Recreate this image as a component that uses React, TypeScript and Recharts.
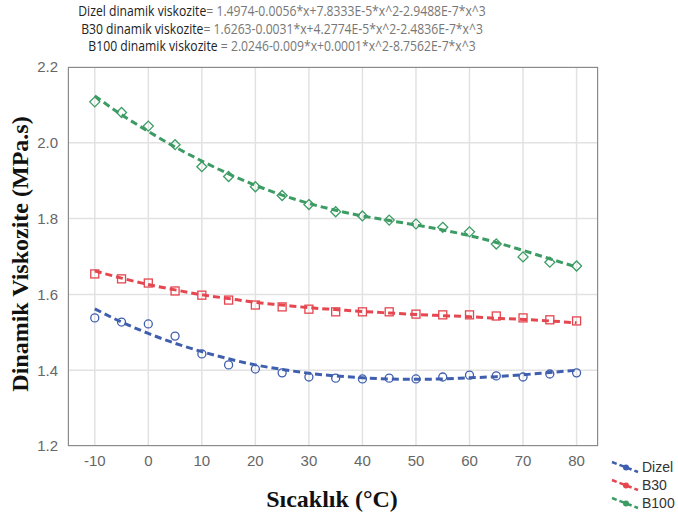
import { ComposedChart, Line, XAxis, YAxis, CartesianGrid } from 'recharts';

const temps = [-10, -5, 0, 5, 10, 15, 20, 25, 30, 35, 40, 45, 50, 55, 60, 65, 70, 75, 80];

const dizelObs = [1.538, 1.527, 1.522, 1.49, 1.443, 1.414, 1.403, 1.393, 1.382, 1.379, 1.377, 1.379, 1.377, 1.382, 1.387, 1.385, 1.382, 1.39, 1.393];
const b30Obs = [1.654, 1.641, 1.63, 1.609, 1.598, 1.585, 1.572, 1.567, 1.561, 1.554, 1.554, 1.554, 1.548, 1.546, 1.546, 1.543, 1.538, 1.533, 1.53];
const b100Obs = [2.108, 2.08, 2.044, 1.995, 1.937, 1.911, 1.884, 1.861, 1.837, 1.818, 1.807, 1.796, 1.786, 1.777, 1.765, 1.733, 1.699, 1.685, 1.675];

const dizelFit = [1.562, 1.527, 1.497, 1.471, 1.449, 1.43, 1.414, 1.402, 1.392, 1.385, 1.38, 1.377, 1.376, 1.377, 1.38, 1.383, 1.388, 1.394, 1.4];
const b30Fit = [1.662, 1.643, 1.626, 1.612, 1.599, 1.589, 1.579, 1.572, 1.565, 1.56, 1.555, 1.551, 1.547, 1.544, 1.541, 1.537, 1.534, 1.53, 1.525];
const b100Fit = [2.124, 2.074, 2.03, 1.989, 1.952, 1.918, 1.888, 1.862, 1.84, 1.822, 1.807, 1.795, 1.783, 1.77, 1.755, 1.737, 1.716, 1.694, 1.672];

const xTicks = [-10, 0, 10, 20, 30, 40, 50, 60, 70, 80];
const yTicks = [1.2, 1.4, 1.6, 1.8, 2.0, 2.2];

const equations = [
  { label: 'Dizel dinamik viskozite', eq: '= 1.4974-0.0056*x+7.8333E-5*x^2-2.9488E-7*x^3' },
  { label: 'B30 dinamik viskozite', eq: '= 1.6263-0.0031*x+4.2774E-5*x^2-2.4836E-7*x^3' },
  { label: 'B100 dinamik viskozite ', eq: '= 2.0246-0.009*x+0.0001*x^2-8.7562E-7*x^3' },
];

const data = temps.map((t, i) => ({
  t,
  dizel: dizelObs[i],
  b30: b30Obs[i],
  b100: b100Obs[i],
  dizelFit: dizelFit[i],
  b30Fit: b30Fit[i],
  b100Fit: b100Fit[i],
}));

const BLUE = '#3f5fae';
const RED = '#e5464f';
const GREEN = '#3c9c64';

const circle = (color: string) => (p: any) => (
  <circle key={p.index} cx={p.cx} cy={p.cy} r={4} fill="none" stroke={color} strokeWidth={1.3} />
);
const square = (color: string) => (p: any) => (
  <rect key={p.index} x={p.cx - 4} y={p.cy - 4} width={8} height={8} fill="none" stroke={color} strokeWidth={1.3} />
);
const diamond = (color: string) => (p: any) => (
  <path
    key={p.index}
    d={`M${p.cx},${p.cy - 5} L${p.cx + 5},${p.cy} L${p.cx},${p.cy + 5} L${p.cx - 5},${p.cy} Z`}
    fill="none"
    stroke={color}
    strokeWidth={1.3}
  />
);

const series = [
  { name: 'Dizel', obs: 'dizel', fit: 'dizelFit', color: BLUE, dot: circle },
  { name: 'B30', obs: 'b30', fit: 'b30Fit', color: RED, dot: square },
  { name: 'B100', obs: 'b100', fit: 'b100Fit', color: GREEN, dot: diamond },
];

const tickStyle = { fill: '#666', fontSize: 15, fontFamily: 'Liberation Sans, Arial, sans-serif' };
const serif = '"Liberation Serif", "Times New Roman", serif';

export default function App() {
  return (
    <div style={{ position: 'absolute', left: 0, top: 0, width: 678, height: 521, background: '#fff', overflow: 'hidden' }}>
      <div
        style={{
          position: 'absolute',
          left: 0,
          top: 2,
          width: 564,
          textAlign: 'center',
          fontFamily: '"Open Sans", sans-serif',
          fontSize: 14,
          lineHeight: '17.5px',
          transform: 'scaleX(0.87)',
          transformOrigin: '282px 0',
        }}
      >
        {equations.map((e) => (
          <div key={e.label}>
            <span style={{ color: '#222' }}>{e.label}</span>
            <span style={{ color: '#777' }}>{e.eq}</span>
          </div>
        ))}
      </div>

      <ComposedChart width={678} height={521} data={data} margin={{ top: 67, right: 80, bottom: 45, left: 0 }}>
        <CartesianGrid stroke="#e2e2e2" strokeWidth={1.5} />
        <XAxis
          dataKey="t"
          type="number"
          domain={[-15, 84]}
          ticks={xTicks}
          height={30}
          tickSize={0}
          tickMargin={9}
          axisLine={false}
          tick={tickStyle}
        />
        <YAxis
          type="number"
          domain={[1.2, 2.2]}
          ticks={yTicks}
          width={68}
          tickSize={0}
          tickMargin={10}
          axisLine={false}
          tick={tickStyle}
          tickFormatter={(v: number) => v.toFixed(1)}
        />
        {series.map((s) => (
          <Line
            key={s.fit}
            dataKey={s.fit}
            type="monotone"
            stroke={s.color}
            strokeWidth={3}
            strokeDasharray="7 4"
            dot={false}
            isAnimationActive={false}
          />
        ))}
        {series.map((s) => (
          <Line
            key={s.obs}
            dataKey={s.obs}
            stroke="none"
            dot={s.dot(s.color)}
            activeDot={false}
            isAnimationActive={false}
          />
        ))}
      </ComposedChart>

      <div
        style={{
          position: 'absolute',
          left: 68,
          top: 67,
          width: 530,
          height: 379,
          border: '1px solid #8a8a8a',
          boxSizing: 'border-box',
          pointerEvents: 'none',
        }}
      />

      <div
        style={{
          position: 'absolute',
          left: 20,
          top: 254,
          transform: 'translate(-50%, -50%) rotate(-90deg)',
          whiteSpace: 'nowrap',
          fontFamily: serif,
          fontWeight: 'bold',
          fontSize: 24,
          lineHeight: '26px',
          color: '#111',
        }}
      >
        Dinamik Viskozite (MPa.s)
      </div>

      <div
        style={{
          position: 'absolute',
          left: 332,
          top: 499,
          transform: 'translate(-50%, -50%)',
          whiteSpace: 'nowrap',
          fontFamily: serif,
          fontWeight: 'bold',
          fontSize: 24,
          lineHeight: '26px',
          color: '#111',
        }}
      >
        Sıcaklık (°C)
      </div>

      <div style={{ position: 'absolute', left: 610, top: 458, fontFamily: 'Liberation Sans, Arial, sans-serif', fontSize: 14, color: '#333' }}>
        {series.map((s) => (
          <div key={s.name} style={{ display: 'flex', alignItems: 'center', height: 18 }}>
            <svg width={32} height={14}>
              <line x1={2} y1={2} x2={28} y2={12} stroke={s.color} strokeWidth={2.5} strokeDasharray="5 3" />
              <circle cx={16} cy={7.5} r={3} fill={s.color} />
            </svg>
            <span>{s.name}</span>
          </div>
        ))}
      </div>
    </div>
  );
}
